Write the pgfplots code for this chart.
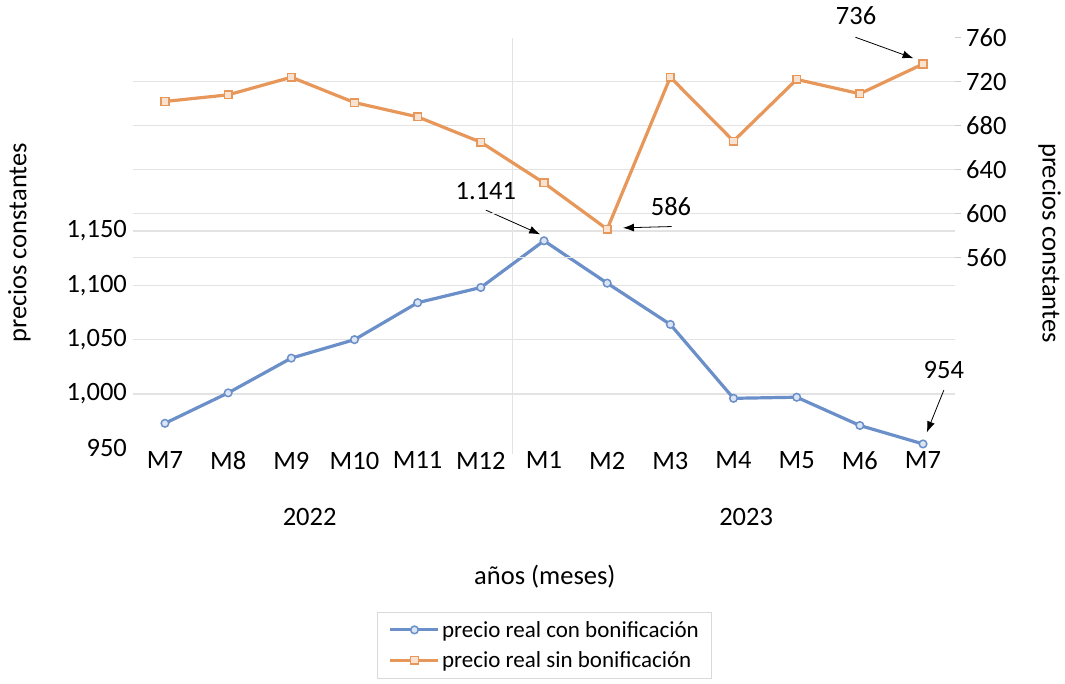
\documentclass[border=0pt]{standalone}
\usepackage{pgfplots}
\pgfplotsset{compat=1.18}
\usepackage{fontspec}
\setmainfont{Carlito}
\usetikzlibrary{arrows.meta}
\definecolor{cblue}{HTML}{6B8FC9}
\definecolor{corange}{HTML}{E8975A}
\definecolor{cbluefill}{HTML}{DCE5F3}
\definecolor{corangefill}{HTML}{F8E2D2}
\definecolor{gridc}{HTML}{E3E3E3}
\newcommand{\bigf}{\fontsize{26.5}{31}\selectfont}
\newcommand{\legf}{\fontsize{23}{27}\selectfont}
\pgfplotsset{
  myax/.style={
    at={(133.4pt,235.7pt)}, anchor=south west, scale only axis,
    width=821.2pt, height=410.7pt,
    xmin=-0.5, xmax=12.5,
    axis line style={draw=none},
    tick label style={font=\bigf},
    clip=false,
  },
  legend image code/.code={%
    \draw[mark repeat=2,mark phase=2,#1] plot coordinates {(0pt,0pt) (24pt,0pt) (48pt,0pt)};},
}
\pgfplotstableread{
x blue orange
0 973 702
1 1001 708
2 1033 724
3 1050 701
4 1084 688
5 1098 665
6 1141 628
7 1102 586
8 1064 724
9 996 666
10 997 722
11 971 709
12 954 736
}\datatab
\begin{document}
\begin{tikzpicture}[x=1pt,y=1pt]
\path[use as bounding box] (0,0) rectangle (1065,684);
\begin{axis}[myax,
  ymin=950, ymax=1328,
  xtick={0,...,12},
  xticklabels={M7,M8,M9,M10,M11,M12,M1,M2,M3,M4,M5,M6,M7},
  ytick={1000,1050,1100,1150},
  yticklabels={{1,000},{1,050},{1,100},{1,150}},
  extra y ticks={950}, extra y tick labels={950},
  extra y tick style={grid=none},
  ymajorgrids, grid style={gridc, line width=1.2pt},
  major tick length=0pt,
  yticklabel style={xshift=-3pt},
]
\draw[gridc, line width=1pt] (axis cs:5.5,945) -- (axis cs:5.5,1328);
\addplot[cblue, line width=3.2pt, mark=*, mark size=3.8pt,
  mark options={fill=cbluefill, draw=cblue, line width=1.5pt}]
  table[x=x, y=blue] {\datatab};
\node[font=\bigf] at (axis cs:5.08,1186.7) {1.141};
\draw[-{Latex[length=11pt,width=8pt]}, line width=0.8pt]
  (axis cs:5.08,1169.2) -- (axis cs:5.94,1146.9);
\node[font=\bigf] at (axis cs:12.33,1022) {954};
\draw[-{Latex[length=11pt,width=8pt]}, line width=0.8pt]
  (axis cs:12.33,1003.6) -- (axis cs:12.06,964.6);
\node[font=\bigf] at (axis cs:2.29,950) [yshift=-69pt] {2022};
\node[font=\bigf] at (axis cs:9.2,950) [yshift=-69pt] {2023};
\node[font=\bigf] at (rel axis cs:0.501,0) [yshift=-128.7pt] {años (meses)};
\node[font=\bigf, xshift=-114pt, rotate=90] at (rel axis cs:0,0.5) {precios constantes};
\end{axis}
\begin{axis}[myax,
  ymin=387, ymax=760,
  hide x axis,
  axis y line*=right,
  ytick={560,600,640,680,720},
  extra y ticks={760}, extra y tick style={grid=none},
  ymajorgrids, grid style={gridc, line width=1.2pt},
  tick align=outside, major tick length=6pt,
  tick style={gray!40, line width=1pt},
  /pgf/number format/assume math mode=true,
  yticklabel style={xshift=2pt},
  legend style={at={(0.501,-0.398)}, anchor=north, draw=gray!30, line width=0.8pt,
    font=\legf, row sep=9pt, inner xsep=11pt, inner ysep=7pt},
  legend cell align=left,
]
\addlegendimage{cblue, line width=3.2pt, mark=*, mark size=3.8pt,
  mark options={fill=cbluefill, draw=cblue, line width=1.5pt}}
\addlegendentry{precio real con bonificación}
\addplot[corange, line width=3.2pt, mark=square*, mark size=3.8pt,
  mark options={fill=corangefill, draw=corange, line width=1.5pt}]
  table[x=x, y=orange] {\datatab};
\addlegendentry{precio real sin bonificación}
\node[font=\bigf] at (axis cs:8.01,606.2) {586};
\draw[-{Latex[length=11pt,width=8pt]}, line width=0.8pt]
  (axis cs:8.02,588.4) -- (axis cs:7.25,587.2);
\node[font=\bigf] at (axis cs:10.94,779.6) {736};
\draw[-{Latex[length=11pt,width=8pt]}, line width=0.8pt]
  (axis cs:10.93,760.3) -- (axis cs:11.85,741.2);
\node[font=\bigf, xshift=95pt, rotate=-90] at (rel axis cs:1,0.5) {precios constantes};
\end{axis}
\end{tikzpicture}
\end{document}
